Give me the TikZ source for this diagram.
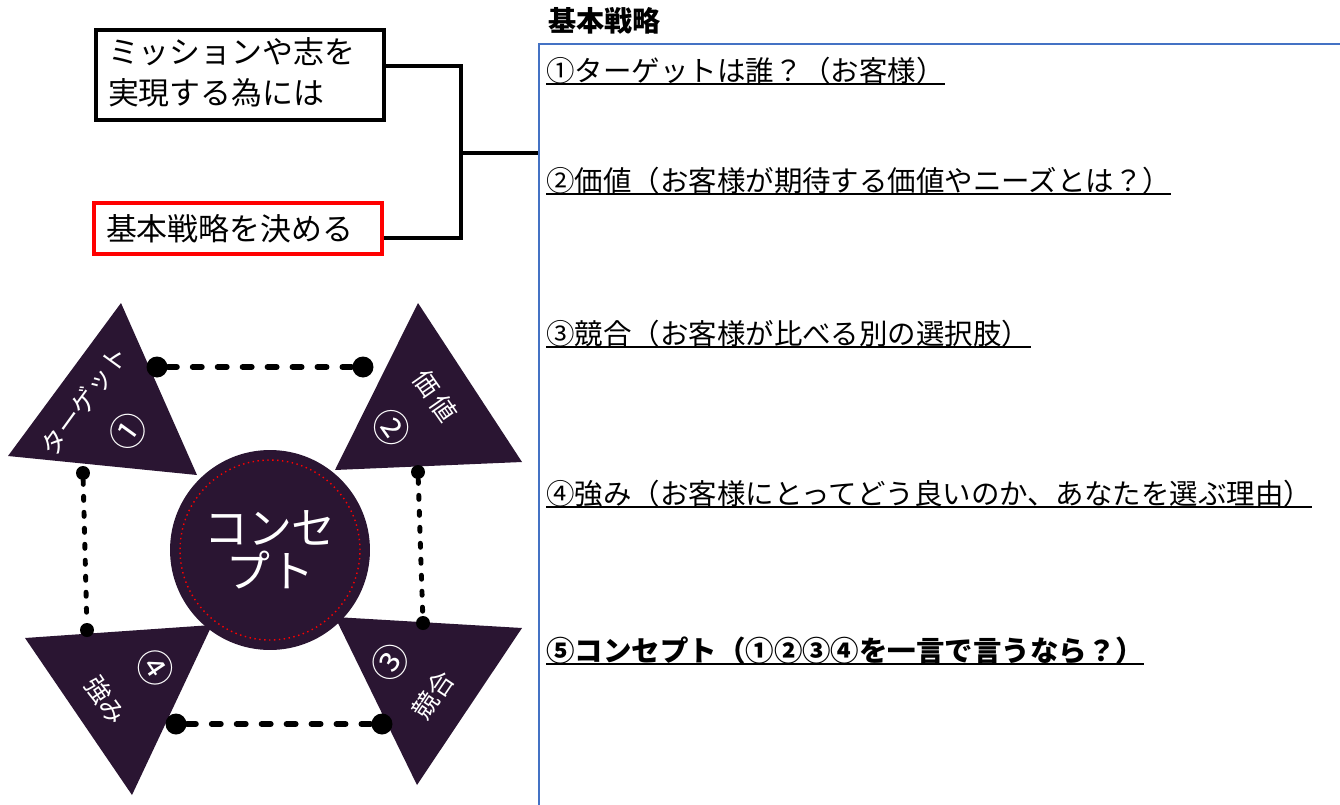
\documentclass[tikz,border=0pt]{standalone}
\usepackage{fontspec}
\setmainfont{Noto Sans CJK JP}
\usepackage{tikz}
\definecolor{plum}{HTML}{2A1532}
\definecolor{frameblue}{HTML}{4472C4}
\tikzset{
    box/.style={draw, line width=2.3pt, align=left, text width=5.28cm,
    	inner xsep=0.24cm, inner ysep=0pt, font=\fontsize{17.6pt}{23.2pt}\selectfont}
}
\tikzset{
    row/.style={anchor=base west, inner sep=0pt, font=\fontsize{16.2pt}{20pt}\selectfont},
    uline/.style={line width=1.1pt}
}
\tikzset{
    bracket/.style={line width=2.2pt},
    tag/.style={text=white, inner sep=0pt, font=\fontsize{14.6pt}{16pt}\selectfont},
    numtag/.style={text=white, inner sep=0pt, font=\fontsize{21pt}{22pt}\selectfont},
    bigdot/.style={circle, fill, inner sep=0pt, minimum size=0.42cm},
    smalldot/.style={circle, fill, inner sep=0pt, minimum size=0.28cm},
    wide dash/.style={line width=3.4pt, line cap=round, dash pattern=on 5.1pt off 9.1pt},
    slim dash/.style={line width=2.8pt, line cap=round, dash pattern=on 2.3pt off 6.8pt}
}

\begin{document}
\begin{tikzpicture}[x=0.02cm, y=-0.02cm]
  \useasboundingbox (0,0) rectangle (1340,805);

  % left boxes and bracket
  \node (mission) [box, minimum height=1.8cm] at (240,75) {ミッションや志を\\実現する為には\vspace{0.1cm}};
  \node (strategy) [box, draw=red, minimum height=1.02cm] at (238,228.5) {基本戦略を決める};
  \coordinate (jn) at (461,153);
  \coordinate (panel) at (539,153);
  \draw [bracket] ([yshift=0.18cm]mission.east) -| (jn) |- ([yshift=-0.19cm]strategy.east);
  \draw [bracket, line width=2.8pt] (jn) -- (panel);

  % right panel
  \draw [frameblue, line width=1.2pt] (539,805) -- (539,44) -- (1340,44);
  \node (head) [row, font=\fontsize{16pt}{20pt}\selectfont\bfseries] at (548,31) {基本戦略};
  \node (q1) [row] at (546,81) {①ターゲットは誰？（お客様）};
  \node (q2) [row] at (546,191) {②価値（お客様が期待する価値やニーズとは？）};
  \node (q3) [row] at (546,344) {③競合（お客様が比べる別の選択肢）};
  \node (q4) [row] at (546,504) {④強み（お客様にとってどう良いのか、あなたを選ぶ理由）};
  \node (q5) [row, font=\fontsize{16.2pt}{20pt}\selectfont\bfseries] at (546,661) {⑤コンセプト（①②③④を一言で言うなら？）};
  \draw [uline] (q1.south west) -- (q1.south east);
  \draw [uline] (q2.south west) -- (q2.south east);
  \draw [uline] (q3.south west) -- (q3.south east);
  \draw [uline] (q4.south west) -- (q4.south east);
  \draw [uline] (q5.south west) -- (q5.south east);

  % four triangles
  \fill [plum] (121,303) -- (8,456) -- (197,475) -- cycle;
  \fill [plum] (418,303) -- (335,470) -- (522,462) -- cycle;
  \fill [plum] (335,617) -- (522,628) -- (417,785) -- cycle;
  \fill [plum] (25,638) -- (212,625) -- (132,795) -- cycle;

  \node (target) [tag, rotate=54] at (84,401) {ターゲット};
  \node (n1) [numtag, rotate=54] at (128,431) {①};
  \node (value) [tag, rotate=-55] at (435,396) {価\,値};
  \node (n2) [numtag, rotate=-55] at (392,428) {②};
  \node (rival) [tag, rotate=56] at (433,695) {競合};
  \node (n3) [numtag, rotate=56] at (390,662) {③};
  \node (strength) [tag, rotate=-56] at (106,700) {強み};
  \node (n4) [numtag, rotate=-56] at (155,668) {④};

  % centre
  \node (concept) [circle, fill=plum, minimum size=4cm, text=white, align=center,
  	font=\fontsize{25pt}{24.4pt}\selectfont] at (270,550) {コンセ\\プト};
  \node (ring) [circle, draw=red, dotted, line width=0.8pt, minimum size=3.6cm] at (concept.center) {};

  % dotted square
  \node (ta) [bigdot] at (157,367) {};
  \node (tb) [bigdot] at (363,367) {};
  \node (ba) [bigdot] at (176,724) {};
  \node (bb) [bigdot] at (382,724) {};
  \node (la) [smalldot] at (83,473) {};
  \node (lb) [smalldot] at (87,630) {};
  \node (ra) [smalldot] at (418,472) {};
  \node (rb) [smalldot] at (423,623) {};
  \draw [wide dash] (ta) -- (tb);
  \draw [wide dash] (ba) -- (bb);
  \draw [slim dash] (la) -- (lb);
  \draw [slim dash] (ra) -- (rb);
\end{tikzpicture}
\end{document}
